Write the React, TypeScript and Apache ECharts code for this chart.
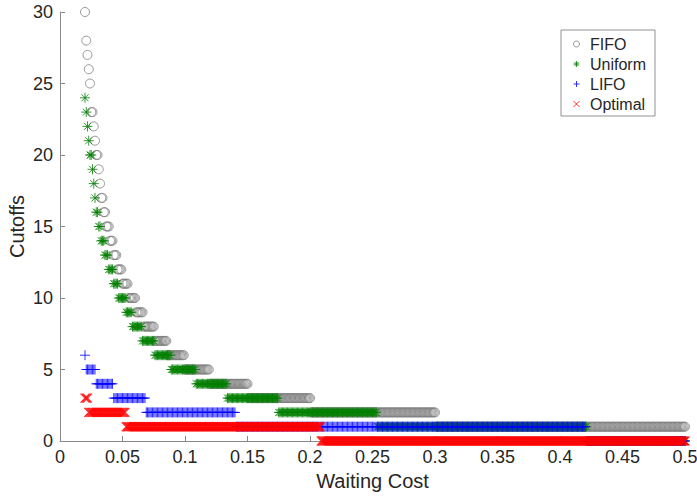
import React, { useEffect, useRef } from "react";
import * as echarts from "echarts";

// Waiting-cost sampling grid of the computation
const waitingCostGrid = [0.02, 0.5, 0.001]; // first, last, step

// Each policy: cutoff level and the last waiting cost at which that cutoff holds
const fifoCutoffs = [30, 28, 27, 26, 25, 23, 22, 21, 20, 19, 18, 17, 16, 15, 14, 13, 12, 11, 10, 9, 8, 7, 6, 5, 4, 3, 2, 1];
const fifoUntil = [0.020, 0.021, 0.022, 0.023, 0.024, 0.026, 0.027, 0.028, 0.030, 0.031, 0.032, 0.034, 0.036, 0.039, 0.042, 0.045, 0.049, 0.054, 0.060, 0.066, 0.075, 0.085, 0.099, 0.119, 0.150, 0.200, 0.300, 0.500];

const uniformCutoffs = [24, 23, 22, 21, 20, 19, 18, 17, 16, 15, 14, 13, 12, 11, 10, 9, 8, 7, 6, 5, 4, 3, 2, 1, 0];
const uniformUntil = [0.020, 0.021, 0.022, 0.023, 0.025, 0.026, 0.027, 0.028, 0.030, 0.032, 0.035, 0.038, 0.042, 0.046, 0.052, 0.057, 0.065, 0.075, 0.088, 0.108, 0.133, 0.174, 0.253, 0.421, 0.500];

const lifoCutoffs = [6, 5, 4, 3, 2, 1, 0];
const lifoUntil = [0.020, 0.028, 0.042, 0.068, 0.140, 0.420, 0.500];

const optimalCutoffs = [3, 2, 1, 0];
const optimalUntil = [0.022, 0.052, 0.208, 0.500];

const seriesNames = ["FIFO", "Uniform", "LIFO", "Optimal"];
const xTickValues = [0, 0.05, 0.1, 0.15, 0.2, 0.25, 0.3, 0.35, 0.4, 0.45, 0.5];
const yTickValues = [0, 5, 10, 15, 20, 25, 30];

function expand(cutoffs: number[], until: number[]): number[][] {
  const [first, last, step] = waitingCostGrid;
  const n0 = Math.round(first / step);
  const n1 = Math.round(last / step);
  const pts: number[][] = [];
  let k = 0;
  for (let i = n0; i <= n1; i++) {
    const x = +(i * step).toFixed(3);
    while (k < until.length - 1 && x > until[k] + 1e-9) k++;
    pts.push([x, cutoffs[k]]);
  }
  return pts;
}

const FONT = "'Liberation Sans', Arial, Helvetica, sans-serif";
const TXT = "#262626";
const AX = "#8a8a8a";

const asterisk = "path://M5,0 L5,10 M0,5 L10,5 M1.5,1.5 L8.5,8.5 M8.5,1.5 L1.5,8.5";
const plus = "path://M5,0 L5,10 M0,5 L10,5";
const cross = "path://M0,0 L10,10 M10,0 L0,10";

export default function App() {
  const ref = useRef<HTMLDivElement>(null);
  useEffect(() => {
    if (!ref.current) return;
    const chart = echarts.init(ref.current, null, { renderer: "svg" });
    const mk = (name: string, data: number[][], symbol: string, size: number, color: string, lw: number) => ({
      name,
      type: "scatter",
      data,
      symbol,
      symbolSize: size,
      symbolKeepAspect: true,
      clip: false,
      progressive: 0,
      itemStyle: { color: "rgba(0,0,0,0)", borderColor: color, borderWidth: lw },
      emphasis: { disabled: true },
    });
    chart.setOption({
      animation: false,
      backgroundColor: "#fff",
      grid: { left: 60, right: 12, top: 12, bottom: 55, containLabel: false, outerBoundsMode: "none" },
      legend: {
        data: seriesNames,
        orient: "vertical",
        left: 561,
        top: 30,
        padding: [6, 9, 4, 12],
        itemGap: 4,
        itemWidth: 17,
        itemHeight: 6,
        symbolKeepAspect: true,
        backgroundColor: "#fff",
        borderColor: "#777",
        borderWidth: 0.8,
        borderRadius: 0,
        itemStyle: { borderWidth: 1 },
        textStyle: { fontFamily: FONT, fontSize: 16, color: TXT, lineHeight: 16 },
        selectedMode: false,
      },
      xAxis: {
        type: "value",
        min: xTickValues[0],
        max: xTickValues[xTickValues.length - 1],
        interval: xTickValues[1] - xTickValues[0],
        name: "Waiting Cost",
        nameLocation: "middle",
        nameGap: 30,
        nameMoveOverlap: false,
        nameTextStyle: { fontFamily: FONT, fontSize: 20, color: TXT },
        axisLine: { show: true, lineStyle: { color: AX, width: 1 } },
        axisTick: { show: true, inside: true, length: 5, lineStyle: { color: AX } },
        axisLabel: { fontFamily: FONT, fontSize: 18, color: TXT, margin: 7 },
        splitLine: { show: false },
      },
      yAxis: {
        type: "value",
        min: yTickValues[0],
        max: yTickValues[yTickValues.length - 1],
        interval: yTickValues[1] - yTickValues[0],
        name: "Cutoffs",
        nameLocation: "middle",
        nameRotate: 90,
        nameGap: 33,
        nameMoveOverlap: false,
        nameTextStyle: { fontFamily: FONT, fontSize: 20, color: TXT },
        axisLine: { show: true, lineStyle: { color: AX, width: 1 } },
        axisTick: { show: true, inside: true, length: 5, lineStyle: { color: AX } },
        axisLabel: { fontFamily: FONT, fontSize: 18, color: TXT, margin: 7 },
        splitLine: { show: false },
      },
      series: [
        mk("FIFO", expand(fifoCutoffs, fifoUntil), "circle", 9, "#808080", 1),
        mk("Uniform", expand(uniformCutoffs, uniformUntil), asterisk, 10, "#008000", 1),
        mk("LIFO", expand(lifoCutoffs, lifoUntil), plus, 10, "#0000ff", 1),
        mk("Optimal", expand(optimalCutoffs, optimalUntil), cross, 9, "#ff0000", 1.3),
      ],
    });
    return () => chart.dispose();
  }, []);
  return (
    <div
      ref={ref}
      style={{ position: "fixed", left: 0, top: 0, width: 697, height: 496, background: "#fff" }}
    />
  );
}
